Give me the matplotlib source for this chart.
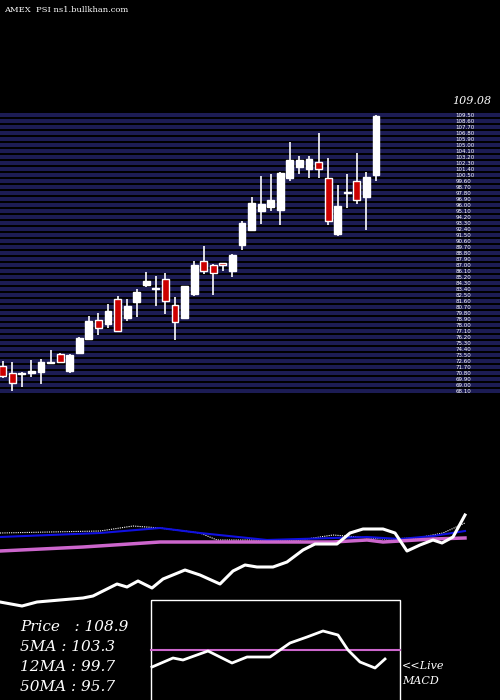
import matplotlib
matplotlib.use("Agg")
import matplotlib.pyplot as plt
import numpy as np

# daily candles (price)
opens  = [71.65, 70.6, 70.4, 70.6, 70.75, 72.05, 73.35, 70.9, 73.6, 75.7,
          78.45, 77.95, 81.6, 78.85, 81.25, 83.8, 83.2, 84.7, 80.7, 78.8,
          82.45, 87.4, 86.7, 87.0, 85.9, 89.8, 92.05, 94.9, 95.5, 95.05,
          99.85, 101.5, 101.2, 102.15, 99.75, 91.45, 97.6, 99.35, 97.0, 100.3]
closes = [70.15, 69.0, 70.4, 70.8, 72.15, 72.25, 72.25, 73.2, 75.8, 78.35,
          77.35, 79.85, 76.8, 80.6, 82.7, 84.3, 83.2, 81.3, 78.15, 83.6,
          86.75, 85.8, 85.6, 86.7, 88.25, 93.05, 96.0, 95.9, 96.5, 100.5,
          102.5, 102.45, 102.6, 101.1, 93.3, 95.6, 97.6, 96.45, 99.95, 109.08]
highs  = [72.4, 72.15, 70.75, 72.5, 72.6, 74.0, 73.5, 73.4, 75.95, 79.1,
          79.6, 80.9, 82.1, 81.6, 83.1, 85.7, 85.1, 85.5, 82.0, 83.6,
          87.3, 89.6, 86.9, 87.0, 88.4, 93.35, 96.95, 100.1, 100.4, 100.75,
          105.2, 103.1, 103.1, 106.55, 102.8, 98.75, 100.4, 103.55, 100.7, 109.3]
lows   = [69.75, 67.9, 68.5, 70.0, 68.95, 71.9, 72.1, 70.6, 73.4, 75.6,
          76.25, 77.3, 76.7, 78.4, 79.0, 83.5, 80.65, 79.45, 75.55, 78.65,
          82.15, 85.45, 82.3, 85.9, 85.0, 89.05, 92.0, 92.95, 94.85, 92.8,
          99.4, 100.45, 99.85, 99.85, 92.8, 91.15, 95.35, 95.95, 92.05, 99.4]
last_price = "109.08"

# lower panel indicator lines (x, level)
ma_blue_x = [0, 100, 160, 200, 267, 333, 367, 400, 433, 465]
ma_blue_y = [537, 533, 528, 533, 540, 538, 537, 539, 536, 531]
ma_dot_x = [0, 100, 133, 160, 200, 217, 300, 333, 383, 417, 443, 465]
ma_dot_y = [533, 531, 526, 528, 533, 540, 540, 535, 539, 538, 533, 523]
ma_pink_x = [0, 83, 160, 333, 367, 383, 433, 465]
ma_pink_y = [551, 547, 542, 542, 540, 542, 539, 538]
price_x = [0, 22, 37, 83, 93, 117, 127, 138, 152, 163, 185, 200, 220, 233, 245,
           257, 273, 287, 303, 315, 337, 350, 363, 383, 395, 407, 420, 433, 442, 453, 465]
price_y = [602, 606, 602, 598, 596, 584, 587, 581, 588, 579, 570, 575, 584, 571, 565,
           567, 567, 562, 550, 544, 544, 533, 529, 529, 533, 551, 545, 540, 543, 537, 515]
macd_x = [152, 173, 183, 208, 232, 247, 270, 290, 307, 323, 338, 348, 360, 375, 385]
macd_y = [667, 658, 660, 651, 663, 657, 657, 643, 637, 631, 635, 650, 662, 668, 659]
macd_signal = 650

labels = ["Price   : 108.9", "5MA : 103.3", "12MA : 99.7", "50MA : 95.7"]

fig = plt.figure(figsize=(5, 7), dpi=100, facecolor="black")

# price panel: full-figure axes in price units
ax = fig.add_axes([0, 0, 1, 1])
ax.set_facecolor("black")
ax.set_xlim(-0.28, 51.96)
ax.set_ylim(21.5, 126.5)
ax.axis("off")

levels = np.arange(109.5, 68.0, -0.9)
for lv in levels:
    ax.axhspan(lv - 0.6, lv, color="#1c1c54", lw=0, zorder=1)
    ax.text(47.3, lv - 0.3, "%.2f" % lv, color="white", fontsize=4, va="center", zorder=3)
ax.text(47.0, 111.3, last_price, color="white", fontsize=8, family="DejaVu Serif",
        style="italic", va="center")

for i in range(len(opens)):
    o, c, h, l = opens[i], closes[i], highs[i], lows[i]
    col = "#cc0000" if c < o else "white"
    ax.vlines(i, l, h, color="white", lw=1.2, zorder=4)
    bot, hgt = min(o, c), max(abs(c - o), 0.15)
    ax.bar(i, hgt, bottom=bot, width=0.72, color=col, edgecolor="white", lw=1, zorder=5)

# indicator panel: pixel space
ax2 = fig.add_axes([0, 0, 1, 1])
ax2.patch.set_alpha(0)
ax2.set_xlim(0, 500)
ax2.set_ylim(700, 0)
ax2.axis("off")
ax2.plot(ma_dot_x, ma_dot_y, color="white", lw=0.8, ls=(0, (1, 1)))
ax2.plot(ma_blue_x, ma_blue_y, color="#1010e0", lw=1.5)
ax2.plot(ma_pink_x, ma_pink_y, color="#cc66cc", lw=2.5)
ax2.plot(price_x, price_y, color="white", lw=2.2)
ax2.add_patch(plt.Rectangle((151, 600), 249, 105, fill=False, ec="white", lw=1))
ax2.plot([151, 400], [macd_signal, macd_signal], color="#cc66cc", lw=1.5)
ax2.plot(macd_x, macd_y, color="white", lw=2)

for k, t in enumerate(labels):
    ax2.text(20, 627 + 20 * k, t, color="white", fontsize=11, family="DejaVu Serif",
             style="italic", va="center")
ax2.text(402, 666, "<<Live", color="white", fontsize=8, family="DejaVu Serif", style="italic", va="center")
ax2.text(402, 681, "MACD", color="white", fontsize=8, family="DejaVu Serif", style="italic", va="center")
ax2.text(4, 10, "AMEX  PSI ns1.bullkhan.com", color="white", fontsize=6, family="DejaVu Serif", va="center")

fig.savefig("out.png", dpi=100, facecolor="black")
